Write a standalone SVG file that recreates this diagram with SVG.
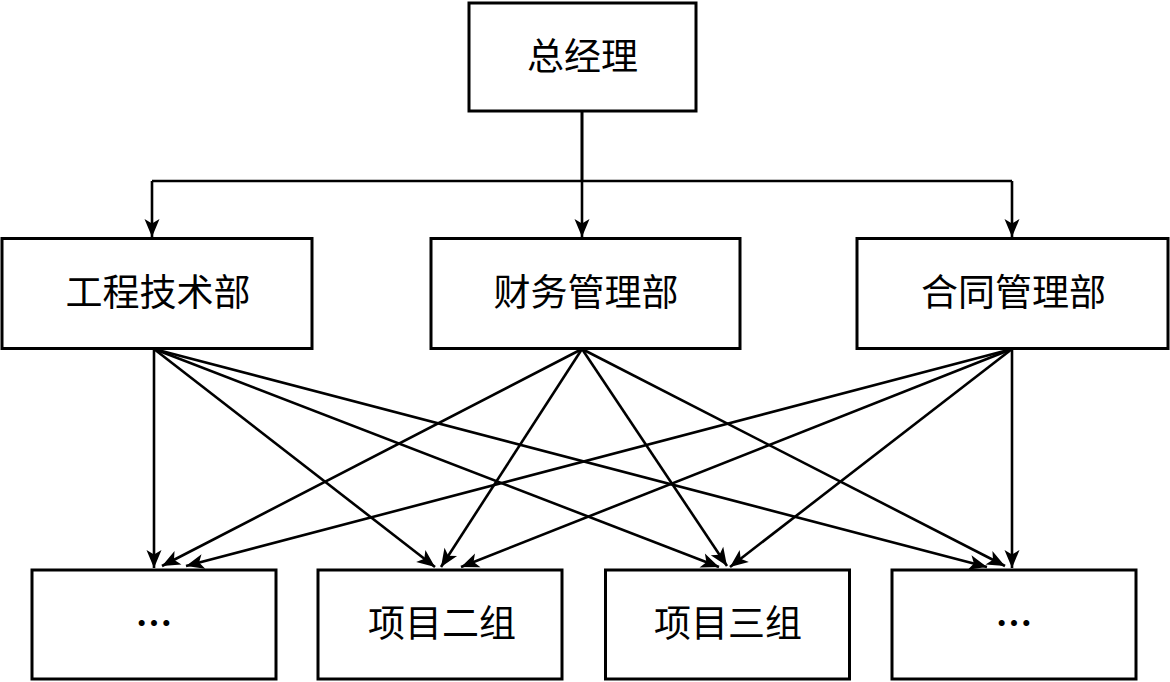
<svg xmlns="http://www.w3.org/2000/svg" width="1170" height="682" viewBox="0 0 1170 682">
<defs>
<marker id="arr" markerUnits="userSpaceOnUse" markerWidth="22" markerHeight="18" viewBox="0 -9 20 18" refX="18" refY="0" orient="auto">
<path d="M0,-7.5 L18,0 L0,7.5 L4.5,0 z" fill="#000"/>
</marker>
<style>
.box{fill:#fff;stroke:#000;stroke-width:3}
.lbl{font-family:"Noto Sans CJK SC","Noto Sans",sans-serif;font-size:37px;fill:#000;text-anchor:middle}
.dots{font-weight:bold}
.e{fill:none;stroke:#000;stroke-width:2.6;marker-end:url(#arr)}
.l{fill:none;stroke:#000;stroke-width:2.6}
</style>
</defs>
<rect width="1170" height="682" fill="#fff"/>
<g id="connectors">
<path class="l" d="M582,112 V181 H152 M582,181 H1012"/>
<path class="e" d="M582,112 V237"/>
<path class="e" d="M152,181 V237"/>
<path class="e" d="M1012,181 V237"/>
<path class="e" d="M154,349 L154,568"/>
<path class="e" d="M154,349 L435,567"/>
<path class="e" d="M154,349 L719,567"/>
<path class="e" d="M154,349 L987,567"/>
<path class="e" d="M582,349 L162,566"/>
<path class="e" d="M582,349 L441,567"/>
<path class="e" d="M582,349 L727,566"/>
<path class="e" d="M582,349 L1005,566"/>
<path class="e" d="M1012,349 L186,566"/>
<path class="e" d="M1012,349 L461,567"/>
<path class="e" d="M1012,349 L730,567"/>
<path class="e" d="M1012,349 L1012,568"/>
</g>
<g id="n-gm"><rect class="box" x="469" y="3" width="227" height="108"/><text class="lbl" x="582.5" y="70">总经理</text></g>
<g id="n-eng"><rect class="box" x="2" y="238.5" width="310" height="110"/><text class="lbl" x="158" y="306">工程技术部</text></g>
<g id="n-fin"><rect class="box" x="431" y="238.5" width="309" height="110"/><text class="lbl" x="586" y="306">财务管理部</text></g>
<g id="n-con"><rect class="box" x="857" y="238.5" width="311" height="110"/><text class="lbl" x="1013.5" y="306">合同管理部</text></g>
<g id="n-g1"><rect class="box" x="32" y="570" width="244" height="109"/><text class="lbl dots" x="154" y="637">…</text></g>
<g id="n-g2"><rect class="box" x="318" y="570" width="244" height="109"/><text class="lbl" x="442" y="637">项目二组</text></g>
<g id="n-g3"><rect class="box" x="605.5" y="570" width="244" height="109"/><text class="lbl" x="728" y="637">项目三组</text></g>
<g id="n-g4"><rect class="box" x="892" y="570" width="244" height="109"/><text class="lbl dots" x="1014" y="637">…</text></g>
</svg>
